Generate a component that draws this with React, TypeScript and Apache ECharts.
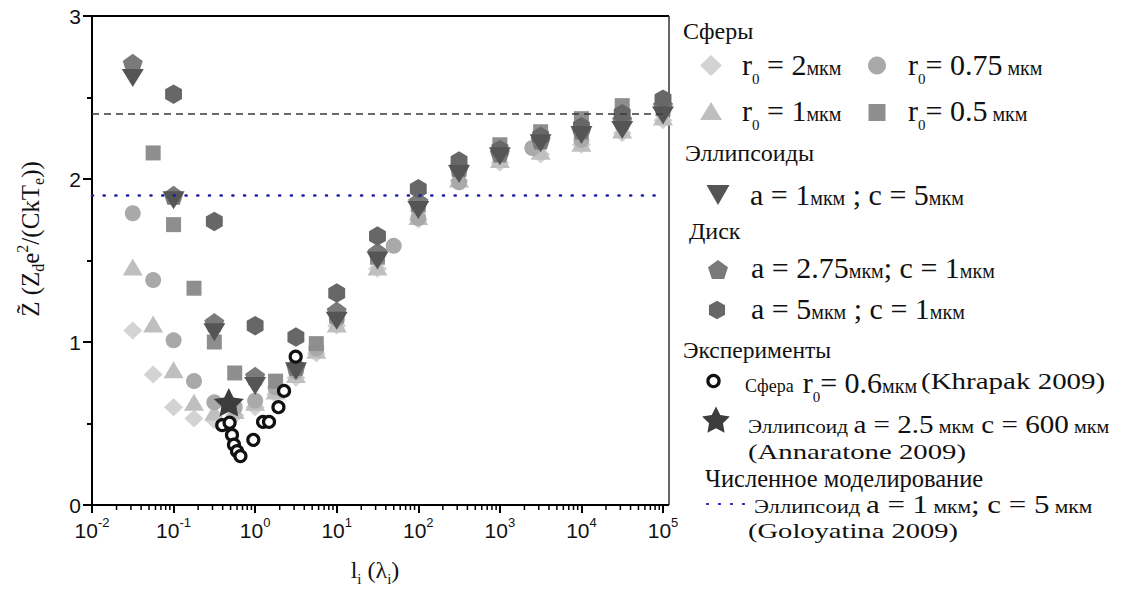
import React, { useEffect, useRef } from "react";
import * as echarts from "echarts";

// ---------------- data ----------------
const sphereX = [0.0316, 0.0562, 0.1, 0.178, 0.316, 0.562, 1, 1.78, 3.16, 5.62, 10, 31.6, 100, 316, 1000, 3162, 10000, 31623, 100000];
const sphere2Values = [1.07, 0.8, 0.6, 0.53, 0.52, 0.55, 0.6, 0.68, 0.78, 0.93, 1.1, 1.45, 1.75, 1.99, 2.1, 2.15, 2.21, 2.28, 2.36];
const sphere1Values = [1.46, 1.11, 0.83, 0.63, 0.57, 0.58, 0.63, 0.7, 0.8, 0.95, 1.11, 1.46, 1.77, 2.0, 2.12, 2.17, 2.22, 2.3, 2.38];
const sphere075X = [0.0316, 0.0562, 0.1, 0.178, 0.316, 0.562, 1, 1.78, 3.16, 5.62, 10, 50, 100, 316, 2500, 10000];
const sphere075Values = [1.79, 1.38, 1.01, 0.76, 0.63, 0.6, 0.64, 0.72, 0.82, 0.96, 1.14, 1.59, 1.76, 1.98, 2.19, 2.24];
const sphere05X = [0.0562, 0.1, 0.178, 0.316, 0.562, 1.78, 5.62, 10, 31.6, 100, 316, 1000, 3162, 10000, 31623, 100000];
const sphere05Values = [2.16, 1.72, 1.33, 1.0, 0.81, 0.76, 0.99, 1.16, 1.52, 1.84, 2.06, 2.21, 2.29, 2.37, 2.45, 2.43];
const shapeX = [0.0316, 0.1, 0.316, 1, 3.16, 10, 31.6, 100, 316, 1000, 3162, 10000, 31623, 100000];
const ellipsoidValues = [2.62, 1.87, 1.06, 0.73, 0.82, 1.13, 1.5, 1.81, 2.03, 2.14, 2.22, 2.27, 2.3, 2.39];
const disk275Values = [2.71, 1.9, 1.12, 0.79, 0.85, 1.19, 1.55, 1.86, 2.07, 2.16, 2.24, 2.3, 2.36, 2.45];
const disk5X = [0.1, 0.316, 1, 3.16, 10, 31.6, 100, 316, 1000, 3162, 10000, 31623, 100000];
const disk5Values = [2.52, 1.74, 1.1, 1.03, 1.3, 1.65, 1.94, 2.11, 2.18, 2.26, 2.32, 2.4, 2.49];
const khrapakX = [0.395, 0.486, 0.52, 0.55, 0.6, 0.66, 0.95, 1.25, 1.48, 1.93, 2.26, 3.14];
const khrapakValues = [0.49, 0.505, 0.43, 0.37, 0.33, 0.3, 0.4, 0.51, 0.51, 0.6, 0.7, 0.91];
const annaratoneX = [0.476];
const annaratoneValues = [0.63];
const dashedLevel = 2.4;
const goloyatinaLevel = 1.9;
const yTicks = [0, 1, 2, 3];
const xDecades = [-2, -1, 0, 1, 2, 3, 4, 5];
const minorMultipliers = [2, 3, 4, 5, 6, 7, 8, 9];

// ---------------- helpers ----------------
const SERIF = "Liberation Serif, DejaVu Serif Condensed, DejaVu Serif, serif";
const SANS = "Liberation Sans, Arial, sans-serif";
const TXT = "#111";

const pair = (xs: number[], ys: number[]) => xs.map((x, i) => [x, ys[i]]);

function polyPoints(cx: number, cy: number, r: number, n: number, inner = 0): number[][] {
  const out: number[][] = [];
  const count = inner ? n * 2 : n;
  for (let i = 0; i < count; i++) {
    const a = -Math.PI / 2 + (i * 2 * Math.PI) / count;
    const rr = inner && i % 2 === 1 ? r * inner : r;
    out.push([cx + rr * Math.cos(a), cy + rr * Math.sin(a)]);
  }
  return out;
}
function polyPath(n: number, inner = 0): string {
  const p = polyPoints(20, 20, 20, n, inner);
  return "path://M" + p.map((q) => q[0].toFixed(2) + " " + q[1].toFixed(2)).join(" L") + " Z";
}
const PENTAGON = polyPath(5);
const HEXAGON = polyPath(6);
const STAR = polyPath(5, 0.5);

const C_DIAMOND = "#d3d3d3";
const C_TRI = "#bfbfbf";
const C_CIRCLE = "#a9a9a9";
const C_SQUARE = "#8e8e8e";
const C_PENT = "#7a7a7a";
const C_HEX = "#676767";
const C_DOWN = "#555555";
const C_STAR = "#3c3c3c";
const C_BLUE = "#1c1ca6";

const tok = (size: number, pad: number[] = [0, 0, 0, 0]) => ({
  fontSize: size,
  fontFamily: SERIF,
  fill: TXT,
  color: TXT,
  padding: pad,
});

const richBig: any = {
  m: tok(30),
  u: tok(20, [7, 0, 0, 0]),
  s: tok(15, [30, 0, 0, 0]),
  c18: tok(18, [8, 0, 0, 0]),
};
const richMid: any = {
  m: tok(26),
  u: tok(18, [5, 0, 0, 0]),
  w: tok(19, [5, 0, 0, 0]),
};

function richText(x: number, y: number, text: string, rich: any, scaleX = 1): any {
  return {
    type: "text",
    x,
    y,
    scaleX,
    style: { text, rich, align: "left", verticalAlign: "middle", fill: TXT, fontFamily: SERIF, fontSize: 24 },
  };
}
function plainText(x: number, y: number, text: string, size: number, scaleX = 1): any {
  return {
    type: "text",
    x,
    y,
    scaleX,
    style: {
      text: "{t|" + text + "}",
      rich: { t: tok(size) },
      fontFamily: SERIF,
      fontSize: size,
      fill: TXT,
      align: "left",
      verticalAlign: "middle",
    },
  };
}

function buildGraphics(): any[] {
  const g: any[] = [];
  // frame (top + right border)
  g.push({ type: "line", shape: { x1: 91, y1: 16, x2: 669, y2: 16 }, style: { stroke: "#000", lineWidth: 2 } });
  g.push({ type: "line", shape: { x1: 669, y1: 16, x2: 669, y2: 505 }, style: { stroke: "#333", lineWidth: 1.5 } });
  g.push({ type: "line", shape: { x1: 660, y1: 505, x2: 669, y2: 505 }, style: { stroke: "#000", lineWidth: 2 } });

  // legend headings
  g.push(plainText(683, 31, "Сферы", 24));
  g.push(plainText(685, 153, "Эллипсоиды", 24));
  g.push(plainText(689, 231, "Диск", 24));
  g.push(plainText(683, 350, "Эксперименты", 23.5));
  g.push(plainText(705, 478, "Численное моделирование", 24.5));

  // legend markers
  g.push({ type: "polygon", shape: { points: [[711, 55], [722, 65.5], [711, 76], [700, 65.5]] }, style: { fill: C_DIAMOND } });
  g.push({ type: "circle", shape: { cx: 877, cy: 65.5, r: 9 }, style: { fill: C_CIRCLE } });
  g.push({ type: "polygon", shape: { points: [[711, 102], [722, 120], [700, 120]] }, style: { fill: C_TRI } });
  g.push({ type: "rect", shape: { x: 868.5, y: 104, width: 17, height: 17 }, style: { fill: C_SQUARE } });
  g.push({ type: "polygon", shape: { points: [[706.5, 185], [729.5, 185], [718, 205]] }, style: { fill: C_DOWN } });
  g.push({ type: "polygon", shape: { points: polyPoints(718, 270.5, 10.5, 5) }, style: { fill: C_PENT } });
  g.push({ type: "polygon", shape: { points: polyPoints(717, 310, 9.3, 6) }, style: { fill: C_HEX } });
  g.push({ type: "circle", shape: { cx: 713.5, cy: 381, r: 5.6 }, style: { fill: "#fff", stroke: "#111", lineWidth: 3.2 } });
  g.push({ type: "polygon", shape: { points: polyPoints(716, 421, 14.6, 5, 0.5) }, style: { fill: C_STAR } });
  g.push({ type: "line", shape: { x1: 707, y1: 504, x2: 752, y2: 504 }, style: { stroke: C_BLUE, lineWidth: 2.2, lineDash: [1, 11], lineCap: "round" } });

  // legend entries
  g.push(richText(742, 64, "{m|r}{s|0}{m| = 2}{u|мкм}", richBig));
  g.push(richText(908, 64, "{m|r}{s|0}{m|= 0.75}{u| мкм}", richBig));
  g.push(richText(742, 110, "{m|r}{s|0}{m| = 1}{u|мкм}", richBig));
  g.push(richText(908, 110, "{m|r}{s|0}{m|= 0.5}{u| мкм}", richBig));
  g.push(richText(750, 194, "{m|a = 1}{u|мкм}{m| ; c = 5}{u|мкм}", richBig));
  g.push(richText(751, 267, "{m|a = 2.75}{u|мкм}{m|; c = 1}{u|мкм}", richBig));
  g.push(richText(751, 308, "{m|a = 5}{u|мкм}{m| ; c = 1}{u|мкм}", richBig));
  g.push(richText(745, 382, "{c18|Сфера  }{m|r}{s|0}{m|= 0.6}{u|мкм}", richBig));
  g.push(plainText(921, 382, "(Khrapak 2009)", 23, 1.26));
  g.push(richText(748, 424, "{w|Эллипсоид }{m|a = 2.5}{u| мкм}{m| c = 600}{u| мкм}", richMid, 1.12));
  g.push(plainText(748, 452, "(Annaratone 2009)", 21, 1.37));
  g.push(richText(754, 504, "{w|Эллипсоид }{m|a = 1}{u| мкм}{m|; c = 5}{u| мкм}", richMid, 1.19));
  g.push(plainText(748, 531, "(Goloyatina 2009)", 21, 1.36));

  // axis titles
  g.push({
    type: "text",
    x: 30,
    y: 239,
    rotation: Math.PI / 2,
    style: {
      text: "{m|Z\u0303 (Z}{s|d}{m|e}{p|2}{m|/(CkT}{s|e}{m|))}",
      align: "center",
      verticalAlign: "middle",
      fill: TXT,
      fontFamily: SERIF,
      fontSize: 25,
      rich: {
        m: tok(25),
        s: tok(16, [16, 0, 0, 0]),
        p: tok(16, [0, 0, 16, 0]),
      },
    },
  });
  g.push({
    type: "text",
    x: 375,
    y: 570,
    style: {
      text: "{m|l}{s|i}{m| (λ}{s|i}{m|)}",
      align: "center",
      verticalAlign: "middle",
      fill: TXT,
      fontFamily: SERIF,
      fontSize: 24,
      rich: {
        m: tok(24),
        s: tok(15, [18, 0, 0, 0]),
      },
    },
  });
  return g;
}

function buildOption(): any {
  const minorTickX: number[][] = [];
  xDecades.slice(0, -1).forEach((d) => minorMultipliers.forEach((m) => minorTickX.push([m * Math.pow(10, d), 0])));

  const scatter = (name: string, data: number[][], symbol: string, size: any, color: string, extra: any = {}) => ({
    type: "scatter",
    name,
    data,
    symbol,
    symbolSize: size,
    symbolKeepAspect: true,
    itemStyle: { color, opacity: 1 },
    emphasis: { disabled: true },
    silent: true,
    ...extra,
  });

  return {
    animation: false,
    backgroundColor: "#fff",
    grid: { left: 92, top: 16, width: 571, height: 489, containLabel: false },
    xAxis: {
      type: "log",
      logBase: 10,
      min: Math.pow(10, xDecades[0]),
      max: Math.pow(10, xDecades[xDecades.length - 1]),
      splitNumber: 7,
      axisLine: { show: true, lineStyle: { color: "#000", width: 2 } },
      axisTick: { show: true, inside: false, length: 8, lineStyle: { color: "#000", width: 2 } },
      minorTick: { show: false },
      splitLine: { show: false },
      axisLabel: {
        margin: 11,
        formatter: (v: number) => `{b|10}{s|${Math.round(Math.log10(v))}}`,
        rich: {
          b: { fontSize: 21, fontFamily: SANS, color: TXT },
          s: { fontSize: 13, fontFamily: SANS, color: TXT, padding: [0, 0, 16, 0] },
        },
      },
    },
    yAxis: {
      type: "value",
      min: yTicks[0],
      max: yTicks[yTicks.length - 1],
      interval: 1,
      axisLine: { show: true, lineStyle: { color: "#000", width: 2 } },
      axisTick: { show: true, inside: false, length: 9, lineStyle: { color: "#000", width: 2 } },
      minorTick: { show: true, splitNumber: 2, length: 5, lineStyle: { color: "#000", width: 2 } },
      splitLine: { show: false },
      axisLabel: { margin: 11, fontSize: 21, fontFamily: SANS, color: TXT },
    },
    graphic: buildGraphics(),
    series: [
      {
        type: "custom",
        name: "minor ticks",
        silent: true,
        clip: false,
        data: minorTickX,
        renderItem: (params: any, api: any) => {
          const p = api.coord([api.value(0), api.value(1)]);
          return {
            type: "line",
            shape: { x1: p[0], y1: p[1], x2: p[0], y2: p[1] + 5 },
            style: { stroke: "#000", lineWidth: 1.5 },
          };
        },
      },
      scatter("r0 = 2 мкм", pair(sphereX, sphere2Values), "diamond", [19, 18], C_DIAMOND, {
        markLine: {
          silent: true,
          symbol: "none",
          label: { show: false },
          data: [
            { yAxis: dashedLevel, lineStyle: { color: "#3a3a3a", width: 1.5, type: [7, 5] } },
            { yAxis: goloyatinaLevel, lineStyle: { color: C_BLUE, width: 2.6, type: [1, 10.7], cap: "round" } },
          ],
        },
      }),
      scatter("r0 = 1 мкм", pair(sphereX, sphere1Values), "triangle", [20, 17], C_TRI),
      scatter("r0 = 0.75 мкм", pair(sphere075X, sphere075Values), "circle", 16, C_CIRCLE),
      scatter("r0 = 0.5 мкм", pair(sphere05X, sphere05Values), "rect", 15, C_SQUARE),
      scatter("a = 2.75 мкм; c = 1 мкм", pair(shapeX, disk275Values), PENTAGON, 20, C_PENT),
      scatter("a = 5 мкм; c = 1 мкм", pair(disk5X, disk5Values), HEXAGON, 19.5, C_HEX),
      scatter("a = 1 мкм; c = 5 мкм", pair(shapeX, ellipsoidValues), "triangle", [22, 18], C_DOWN, { symbolRotate: 180 }),
      scatter("Annaratone 2009", pair(annaratoneX, annaratoneValues), STAR, 30, C_STAR),
      {
        type: "scatter",
        name: "Khrapak 2009",
        data: pair(khrapakX, khrapakValues),
        symbol: "circle",
        symbolSize: 11,
        silent: true,
        itemStyle: { color: "#fff", borderColor: "#111", borderWidth: 3.2, opacity: 1 },
      },
    ],
  };
}

export default function App() {
  const ref = useRef<HTMLDivElement>(null);
  useEffect(() => {
    if (!ref.current) return;
    const chart = echarts.init(ref.current, null, { renderer: "svg" });
    chart.setOption(buildOption());
    return () => chart.dispose();
  }, []);
  return (
    <div
      ref={ref}
      style={{ position: "fixed", left: 0, top: 0, width: 1147, height: 594, background: "#fff" }}
    />
  );
}
